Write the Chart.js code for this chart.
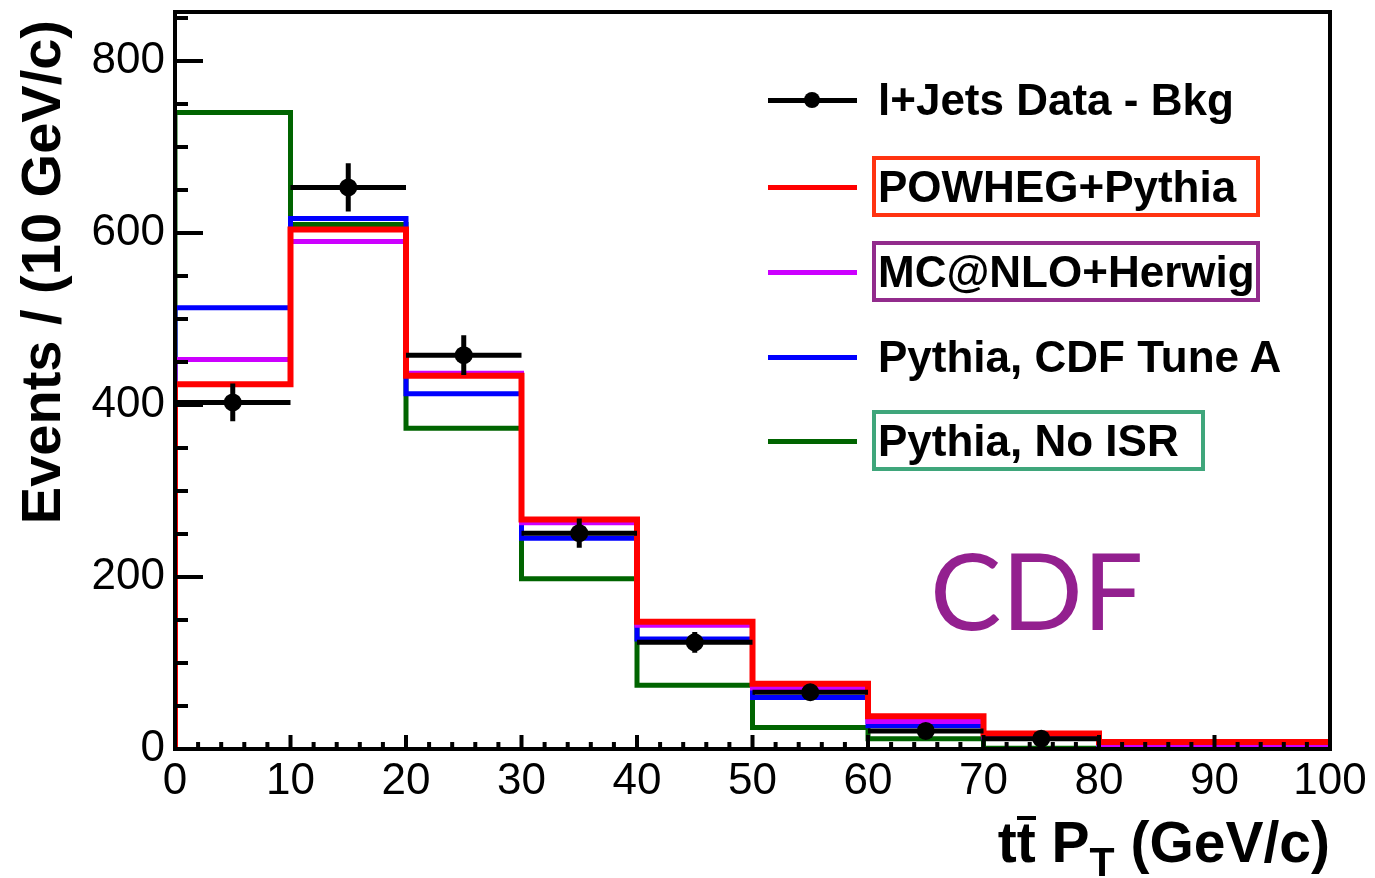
<!DOCTYPE html>
<html>
<head>
<meta charset="utf-8">
<title>ttbar pT</title>
<script src="https://cdn.jsdelivr.net/npm/chart.js@4.4.1/dist/chart.umd.min.js"></script>
<style>
  body { margin: 0; background: #fff; }
  #wrap { position: relative; width: 1375px; height: 878px; font-family: "Liberation Sans", Arial, sans-serif; color: #000; }
  #wrap canvas { position: absolute; left: 0; top: 0; }
  .abs { position: absolute; white-space: nowrap; line-height: 1; }
  .lgText { position: absolute; font-weight: bold; font-size: 44px; line-height: 44px; white-space: nowrap; }
  .lgLine { position: absolute; height: 5px; }
  .lgDot { position: absolute; width: 16px; height: 16px; border-radius: 50%; background: #000; }
  .lgBox { position: absolute; border: 4px solid; box-sizing: border-box; }
  .tbar { display: inline-block; border-top: 4px solid #000; line-height: 0.78em; }
</style>
</head>
<body>
<div id="wrap">
  <canvas id="chart"></canvas>
  <div class="abs" id="ytitle" style="left:13px; top:620px; width:600px; text-align:right; font-weight:bold; font-size:56px; transform-origin:0 0; transform:rotate(-90deg);">Events / (10 GeV/c)</div>
  <div class="abs" id="xtitle" style="right:45px; top:814px; font-weight:bold; font-size:57px;">t<span class="tbar">t</span> P<span style="font-size:41px; position:relative; top:14px;">T</span> (GeV/c)</div>
  <div class="abs" id="cdf" style="left:930px; top:535px; font-family:Lato, 'Open Sans', sans-serif; font-size:107px; color:#93208f;">CDF</div>
</div>
<script>
// histogram binning, GeV/c
const binEdges = [0, 10, 20, 30, 40, 50, 60, 70, 80, 90, 100];

// l+jets data minus background (bin centres, values, errors)
const dataX = [5, 15, 25, 35, 45, 55, 65, 75];
const dataY = [403, 653, 458, 251, 124, 66, 21, 12];
const dataErr = [22, 28, 23, 17, 12, 7, 5, 4];

// predictions per bin
const powheg = [424, 604, 434, 267, 148, 76, 38, 18, 8, 8];
const mcatnlo = [453, 590, 437, 263, 144, 71, 32, 14, 5, 4];
const tuneA = [513, 617, 413, 245, 128, 60, 27, 13, 4, 3];
const noIsr = [740, 610, 373, 198, 74, 25, 12, 1, 1, 1];

// axis ticks
const xTickValues = [0, 10, 20, 30, 40, 50, 60, 70, 80, 90, 100];
const yTickValues = [0, 200, 400, 600, 800];

// legend
const legendLabels = ['l+Jets Data - Bkg', 'POWHEG+Pythia', 'MC@NLO+Herwig', 'Pythia, CDF Tune A', 'Pythia, No ISR'];
const legendColors = ['#000000', '#ff0000', '#cc00ff', '#0000ff', '#006400'];
const legendBoxes = [null, '#ff3311', '#922b8c', null, '#3fa67b'];

const wrap = document.getElementById('wrap');
const canvas = document.getElementById('chart');
canvas.width = 1375;
canvas.height = 878;
canvas.style.width = '1375px';
canvas.style.height = '878px';

// build the legend
const rowY = [100, 187, 272, 357, 441];
const boxRight = [0, 1260, 1260, 0, 1205];
legendLabels.forEach(function (label, i) {
    const line = document.createElement('div');
    line.className = 'lgLine';
    line.style.left = '768px';
    line.style.width = '89px';
    line.style.top = (rowY[i] - 2.5) + 'px';
    line.style.background = legendColors[i];
    wrap.appendChild(line);
    if (i === 0) {
        const dot = document.createElement('div');
        dot.className = 'lgDot';
        dot.style.left = '804px';
        dot.style.top = (rowY[i] - 8) + 'px';
        wrap.appendChild(dot);
    }
    const txt = document.createElement('div');
    txt.className = 'lgText';
    txt.textContent = label;
    txt.style.left = '878px';
    txt.style.top = (rowY[i] - 22) + 'px';
    wrap.appendChild(txt);
    if (legendBoxes[i]) {
        const box = document.createElement('div');
        box.className = 'lgBox';
        box.style.borderColor = legendBoxes[i];
        box.style.left = '872px';
        box.style.width = (boxRight[i] - 872) + 'px';
        box.style.top = (rowY[i] - 31) + 'px';
        box.style.height = '61px';
        wrap.appendChild(box);
    }
});

function stepPoints(vals) {
    const pts = [{ x: binEdges[0], y: 0 }];
    vals.forEach(function (v, i) { pts.push({ x: binEdges[i], y: v }); });
    pts.push({ x: binEdges[binEdges.length - 1], y: vals[vals.length - 1] });
    return pts;
}

function histDataset(vals, color, width) {
    return {
        data: stepPoints(vals),
        borderColor: color,
        borderWidth: width,
        stepped: 'before',
        pointRadius: 0,
        fill: false
    };
}

// error bars, inward ticks and frame, ROOT style
const rootAxes = {
    id: 'rootAxes',
    afterDatasetsDraw: function (chart) {
        const ctx = chart.ctx;
        const xs = chart.scales.x;
        const ys = chart.scales.y;
        const area = chart.chartArea;
        ctx.save();
        ctx.strokeStyle = '#000';
        ctx.lineWidth = 5;
        ctx.beginPath();
        dataX.forEach(function (x, i) {
            const px = xs.getPixelForValue(x);
            const py = ys.getPixelForValue(dataY[i]);
            ctx.moveTo(xs.getPixelForValue(binEdges[i]), py);
            ctx.lineTo(xs.getPixelForValue(binEdges[i + 1]), py);
            ctx.moveTo(px, ys.getPixelForValue(dataY[i] - dataErr[i]));
            ctx.lineTo(px, ys.getPixelForValue(dataY[i] + dataErr[i]));
        });
        ctx.stroke();

        ctx.lineWidth = 4;
        ctx.beginPath();
        for (let v = 0; v <= ys.max; v += 50) {
            const py = ys.getPixelForValue(v);
            const len = yTickValues.includes(v) ? 28 : 13;
            ctx.moveTo(area.left, py);
            ctx.lineTo(area.left + len, py);
        }
        for (let v = 0; v <= 100; v += 2) {
            const px = xs.getPixelForValue(v);
            const len = xTickValues.includes(v) ? 14 : 7;
            ctx.moveTo(px, area.bottom);
            ctx.lineTo(px, area.bottom - len);
        }
        ctx.stroke();

        ctx.lineWidth = 4;
        ctx.strokeRect(area.left, area.top, area.right - area.left, area.bottom - area.top);
        ctx.restore();
    }
};

new Chart(canvas, {
    type: 'line',
    data: {
        datasets: [
            {
                data: dataX.map(function (x, i) { return { x: x, y: dataY[i] }; }),
                showLine: false,
                pointRadius: 9,
                pointBackgroundColor: '#000',
                pointBorderColor: '#000',
                pointBorderWidth: 0
            },
            histDataset(powheg, '#ff0000', 6),
            histDataset(mcatnlo, '#cc00ff', 5),
            histDataset(tuneA, '#0000ff', 5),
            histDataset(noIsr, '#006400', 5)
        ]
    },
    options: {
        responsive: false,
        animation: false,
        layout: { padding: { left: 0, right: 45, top: 12, bottom: 0 } },
        plugins: {
            legend: { display: false },
            tooltip: { enabled: false }
        },
        scales: {
            x: {
                type: 'linear',
                min: 0,
                max: 100,
                grid: { display: false, drawTicks: false },
                border: { display: false },
                afterBuildTicks: function (scale) {
                    scale.ticks = xTickValues.map(function (v) { return { value: v }; });
                },
                afterFit: function (scale) { scale.height = 129; },
                ticks: {
                    padding: 6,
                    color: '#000',
                    maxRotation: 0,
                    font: { family: 'Liberation Sans', size: 44 }
                }
            },
            y: {
                type: 'linear',
                min: 0,
                max: 857,
                grid: { display: false, drawTicks: false },
                border: { display: false },
                afterBuildTicks: function (scale) {
                    scale.ticks = yTickValues.map(function (v) { return { value: v }; });
                },
                afterFit: function (scale) {
                    scale.width = 175;
                    scale.paddingTop = 0;
                    scale.paddingBottom = 0;
                },
                ticks: {
                    padding: 10,
                    color: '#000',
                    font: { family: 'Liberation Sans', size: 44 }
                }
            }
        }
    },
    plugins: [rootAxes]
});
</script>
</body>
</html>
